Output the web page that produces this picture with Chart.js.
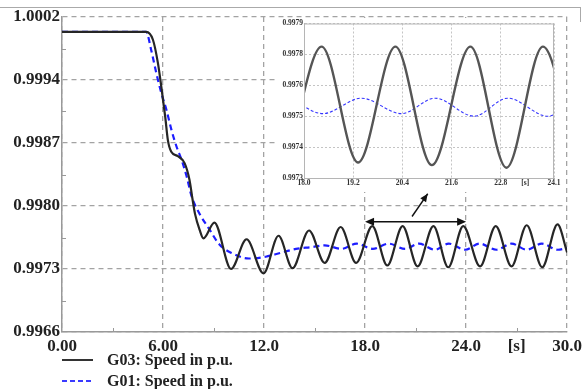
<!DOCTYPE html>
<html>
<head>
<meta charset="utf-8">
<script src="https://cdn.jsdelivr.net/npm/chart.js@4.4.1/dist/chart.umd.min.js"></script>
<style>
  body { margin: 0; background: #fff; }
  .wrap { position: relative; width: 586px; height: 389px; overflow: hidden; }
  #main { position: absolute; left: 0; top: 0; }
  #inset { position: absolute; left: 278px; top: 18px; background: #fff; }
  .frame { position: absolute; left: 0; top: 7px; width: 580px; height: 14px;
           border-top: 1px solid #aaa; border-right: 1px solid #aaa; }
  .legend { position: absolute; left: 62px; font: bold 16px "Liberation Serif", serif; color: #222;
            display: flex; align-items: center; }
  .legend span.s { display: inline-block; width: 31px; height: 2px; margin-right: 14px; }
</style>
</head>
<body>
<div class="wrap">
  <div class="frame"></div>
  <canvas id="main" width="586" height="389"></canvas>
  <canvas id="inset" width="286" height="174"></canvas>
  <div class="legend" style="top:351px"><span class="s" style="background:#333"></span>G03: Speed in p.u.</div>
  <div class="legend" style="top:372px"><span class="s" style="height:1.5px;background:repeating-linear-gradient(90deg,#3a3aff 0 5px,transparent 5px 8px)"></span>G01: Speed in p.u.</div>
</div>
<script>
// time [s] and speed [p.u.]
const g03T = [0, 5.0, 5.4, 5.7, 5.9, 6.13, 6.29, 6.49, 6.88, 7.28, 7.57, 7.75, 7.9, 8.17, 8.4,
  9.05, 10.04, 10.96, 11.97, 12.86, 13.69, 14.67, 15.6, 16.55, 17.47, 18.43, 19.32, 20.23,
  21.12, 22.06, 22.94, 23.83, 24.83, 25.76, 26.7, 27.6, 28.52, 29.43, 30.0];
const g03V = [1.00003, 1.00003, 0.99994, 0.99967, 0.9994, 0.99906, 0.99879, 0.99866, 0.99861, 0.99853,
  0.99834, 0.99812, 0.99795, 0.99777, 0.99767,
  0.99785, 0.99732, 0.99766, 0.99727, 0.9977, 0.99733, 0.99776, 0.99739, 0.9978, 0.99739, 0.99781,
  0.99736, 0.99781, 0.99735, 0.99781, 0.99734, 0.99781, 0.99735, 0.99781, 0.99735, 0.99782,
  0.99734, 0.99783, 0.99751];

const g01T = [0, 5.0, 5.3, 5.6, 5.9, 6.2, 6.5, 6.8, 7.1, 7.4, 7.7, 8.2, 8.7, 9.35, 10.1, 11.1,
  12.1, 12.9, 13.9, 14.8, 15.6, 16.6, 17.5, 18.46, 19.4, 20.38, 21.2, 22.15, 22.97, 23.95,
  24.8, 25.8, 26.7, 27.6, 28.5, 29.45, 30.0];
const g01V = [1.00003, 1.00003, 0.99982, 0.99956, 0.99933, 0.99914, 0.99891, 0.99872, 0.99857,
  0.99838, 0.99815, 0.99794, 0.99779, 0.9976, 0.9975, 0.99744, 0.99746, 0.9975, 0.99755,
  0.99757, 0.99759, 0.99755, 0.99761, 0.99755, 0.99761, 0.99755, 0.99761, 0.99754, 0.99761,
  0.99754, 0.99761, 0.99754, 0.99761, 0.99754, 0.99761, 0.99754, 0.99756];

// main axes
const xTicks = [0, 6, 12, 18, 24, 27, 30];
const xLabels = ['0.00', '6.00', '12.0', '18.0', '24.0', '[s]', '30.0'];
const xMinor = [3, 9, 15, 21, 27];
const yTicks = [0.9966, 0.99732, 0.99804, 0.99876, 0.99948, 1.0002];
const yLabels = ['0.9966', '0.9973', '0.9980', '0.9987', '0.9994', '1.0002'];
const yMinor = [0.99696, 0.99768, 0.9984, 0.99912, 0.99984];

// inset axes
const insetXTicks = [18, 19.2, 20.4, 21.6, 22.8, 23.4, 24.1];
const insetXLabels = ['18.0', '19.2', '20.4', '21.6', '22.8', '[s]', '24.1'];
const insetYTicks = [0.9973, 0.99742, 0.99754, 0.99766, 0.99778, 0.9979];
const insetYLabels = ['0.9973', '0.9974', '0.9975', '0.9976', '0.9978', '0.9979'];

// zoom markers: double arrow over the zoomed window, pointer to the inset
const spanArrow = [[18, 0.99786], [24, 0.99786]];
const pointArrow = [[20.79, 0.99792], [21.72, 0.99818]];

const pts = (ts, vs) => ts.map((t, i) => ({ x: t, y: vs[i] }));

function arrowHead(ctx, x1, y1, x2, y2, len, half) {
  const a = Math.atan2(y2 - y1, x2 - x1);
  ctx.beginPath();
  ctx.moveTo(x2, y2);
  ctx.lineTo(x2 - len * Math.cos(a) + half * Math.sin(a), y2 - len * Math.sin(a) - half * Math.cos(a));
  ctx.lineTo(x2 - len * Math.cos(a) - half * Math.sin(a), y2 - len * Math.sin(a) + half * Math.cos(a));
  ctx.closePath();
  ctx.fill();
}

const arrows = {
  id: 'arrows',
  afterDatasetsDraw(chart) {
    const { ctx, scales: { x, y } } = chart;
    const p = a => [x.getPixelForValue(a[0]), y.getPixelForValue(a[1])];
    ctx.save();
    ctx.strokeStyle = '#111';
    ctx.fillStyle = '#111';
    ctx.lineWidth = 1.4;
    const [a0, a1] = spanArrow.map(p);
    ctx.beginPath(); ctx.moveTo(a0[0] + 6, a0[1]); ctx.lineTo(a1[0] - 6, a1[1]); ctx.stroke();
    arrowHead(ctx, a1[0], a1[1], a0[0], a0[1], 9, 4);
    arrowHead(ctx, a0[0], a0[1], a1[0], a1[1], 9, 4);
    const [b0, b1] = pointArrow.map(p);
    ctx.beginPath(); ctx.moveTo(b0[0], b0[1]); ctx.lineTo(b1[0], b1[1]); ctx.stroke();
    arrowHead(ctx, b0[0], b0[1], b1[0], b1[1], 8, 3.5);
    ctx.restore();
  }
};

// small tick marks between the labelled ones
const minorTicks = {
  id: 'minorTicks',
  afterDraw(chart) {
    const { ctx, chartArea: c, scales: { x, y } } = chart;
    ctx.save();
    ctx.strokeStyle = '#999';
    ctx.lineWidth = 1;
    ctx.beginPath();
    xMinor.forEach(v => { const px = Math.round(x.getPixelForValue(v)) + 0.5; ctx.moveTo(px, c.bottom); ctx.lineTo(px, c.bottom - 4); });
    yMinor.forEach(v => { const py = Math.round(y.getPixelForValue(v)) + 0.5; ctx.moveTo(c.left, py); ctx.lineTo(c.left + 4, py); });
    ctx.stroke();
    ctx.restore();
  }
};

const boxBorder = {
  id: 'boxBorder',
  afterDraw(chart) {
    const { ctx, chartArea: c } = chart;
    ctx.save();
    ctx.strokeStyle = '#b5b5b5';
    ctx.lineWidth = 1;
    ctx.strokeRect(c.left + 0.5, c.top + 0.5, c.right - c.left - 1, c.bottom - c.top);
    ctx.restore();
  }
};

const serif = '"Liberation Serif", "Times New Roman", serif';

new Chart(document.getElementById('main'), {
  type: 'line',
  data: {
    datasets: [
      { label: 'G03: Speed in p.u.', data: pts(g03T, g03V), borderColor: '#262626', borderWidth: 2.2,
        pointRadius: 0, cubicInterpolationMode: 'monotone', fill: false },
      { label: 'G01: Speed in p.u.', data: pts(g01T, g01V), borderColor: '#1d1dff', borderWidth: 2.2,
        borderDash: [6, 4], pointRadius: 0, cubicInterpolationMode: 'monotone', fill: false }
    ]
  },
  options: {
    responsive: false,
    animation: false,
    devicePixelRatio: 1,
    layout: { padding: { top: 17, right: 17, left: 0, bottom: 0 } },
    plugins: { legend: { display: false }, tooltip: { enabled: false } },
    scales: {
      x: {
        type: 'linear', min: 0, max: 30,
        afterBuildTicks: ax => { ax.ticks = xTicks.map(v => ({ value: v })); },
        afterFit: ax => { ax.height = 57; },
        ticks: { callback: (v, i) => xLabels[i], maxRotation: 0, autoSkip: false, padding: 4,
                 color: '#222', font: { family: serif, size: 17, weight: 'bold' } },
        grid: { color: c => c.index === 5 ? 'rgba(0,0,0,0)' : '#a3a3a3', lineWidth: 1.3, drawTicks: false },
        border: { color: '#999', width: 1.5, dash: [5, 4] }
      },
      y: {
        type: 'linear', min: 0.9966, max: 1.0002,
        afterBuildTicks: ax => { ax.ticks = yTicks.map(v => ({ value: v })); },
        afterFit: ax => { ax.width = 62; },
        ticks: { callback: (v, i) => yLabels[i], autoSkip: false, padding: 2,
                 color: '#222', font: { family: serif, size: 17, weight: 'bold' } },
        grid: { color: '#a3a3a3', lineWidth: 1.3, drawTicks: false },
        border: { color: '#999', width: 1.5, dash: [5, 4] }
      }
    }
  },
  plugins: [arrows, minorTicks]
});

new Chart(document.getElementById('inset'), {
  type: 'line',
  data: {
    datasets: [
      { data: pts(g03T, g03V), borderColor: '#555', borderWidth: 2.4,
        pointRadius: 0, cubicInterpolationMode: 'monotone', fill: false },
      { data: pts(g01T, g01V), borderColor: '#3535ff', borderWidth: 1.1,
        borderDash: [3, 2], pointRadius: 0, cubicInterpolationMode: 'monotone', fill: false }
    ]
  },
  options: {
    responsive: false,
    animation: false,
    devicePixelRatio: 1,
    layout: { padding: { top: 3, right: 10, left: 0, bottom: 0 } },
    plugins: { legend: { display: false }, tooltip: { enabled: false } },
    scales: {
      x: {
        type: 'linear', min: 18, max: 24.1,
        afterBuildTicks: ax => { ax.ticks = insetXTicks.map(v => ({ value: v })); },
        afterFit: ax => { ax.height = 14; },
        ticks: { callback: (v, i) => insetXLabels[i], maxRotation: 0, autoSkip: false, padding: 1,
                 color: '#333', font: { family: serif, size: 7.5, weight: 'bold' } },
        grid: { color: c => c.index === 5 ? 'rgba(0,0,0,0)' : '#c4c4c4', lineWidth: 1, drawTicks: false },
        border: { color: '#b5b5b5', width: 1, dash: [2, 2] }
      },
      y: {
        type: 'linear', min: 0.9973, max: 0.9979,
        afterBuildTicks: ax => { ax.ticks = insetYTicks.map(v => ({ value: v })); },
        afterFit: ax => { ax.width = 26; },
        ticks: { callback: (v, i) => insetYLabels[i], autoSkip: false, padding: 1,
                 color: '#333', font: { family: serif, size: 7.5, weight: 'bold' } },
        grid: { color: '#c4c4c4', lineWidth: 1, drawTicks: false },
        border: { color: '#b5b5b5', width: 1, dash: [2, 2] }
      }
    }
  },
  plugins: [boxBorder]
});
</script>
</body>
</html>
